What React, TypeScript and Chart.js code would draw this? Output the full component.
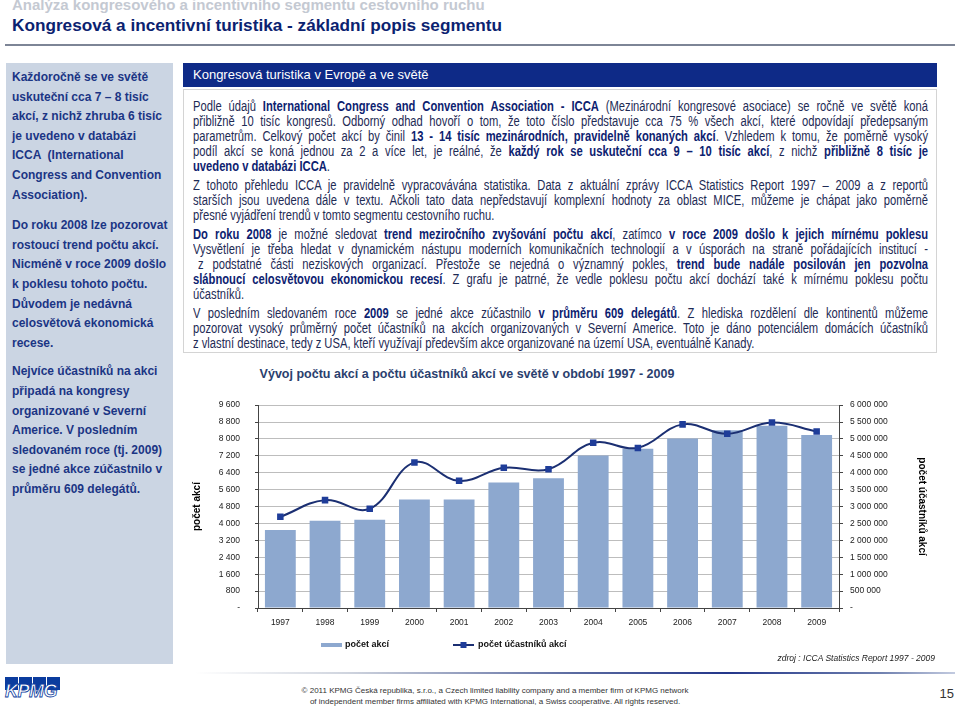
import React, { useEffect, useRef } from "react";
import { Chart, registerables } from "chart.js";

Chart.register(...registerables);

// ---------- DATA ----------
const years = ["1997", "1998", "1999", "2000", "2001", "2002", "2003", "2004", "2005", "2006", "2007", "2008", "2009"];
const eventCounts = [3690, 4130, 4175, 5130, 5135, 5940, 6140, 7220, 7530, 8015, 8410, 8625, 8185];
const participantCounts = [2695000, 3190000, 2935000, 4305000, 3760000, 4145000, 4105000, 4885000, 4735000, 5430000, 5150000, 5485000, 5220000];
const eventsAxisMax = 9600;
const eventsAxisStep = 800;
const participantsAxisMax = 6000000;
const participantsAxisStep = 500000;
const seriesLabels = ["počet akcí", "počet účastníků akcí"];
const axisTitles = ["počet akcí", "počet účastníků akcí"];
const chartTitle = "Vývoj počtu akcí a počtu účastníků akcí ve světě v období 1997 - 2009";
const sourceNote = "zdroj : ICCA Statistics Report 1997 - 2009";

const supTitle = "Analýza kongresového a incentivního segmentu cestovního ruchu";
const mainTitle = "Kongresová a incentivní turistika - základní popis segmentu";
const boxHeader = "Kongresová turistika v Evropě a ve světě";

const sideParagraphs = [
  ["Každoročně se ve světě", "uskuteční cca 7 – 8 tisíc", "akcí, z nichž zhruba 6 tisíc", "je uvedeno v databázi", "ICCA  (International", "Congress and Convention", "Association)."],
  ["Do roku 2008 lze pozorovat", "rostoucí trend počtu akcí.", "Nicméně v roce 2009 došlo", "k poklesu tohoto počtu.", "Důvodem je nedávná", "celosvětová ekonomická", "recese."],
  ["Nejvíce účastníků na akci", "připadá na kongresy", "organizované v Severní", "Americe. V posledním", "sledovaném roce (tj. 2009)", "se jedné akce zúčastnilo v", "průměru 609 delegátů."],
];

const bodyParagraphs = [
  [
    "Podle údajů **International Congress and Convention Association - ICCA** (Mezinárodní kongresové asociace) se ročně ve světě koná",
    "přibližně 10 tisíc kongresů. Odborný odhad hovoří o tom, že toto číslo představuje cca 75 % všech akcí, které odpovídají předepsaným",
    "parametrům. Celkový počet akcí by činil **13 - 14 tisíc mezinárodních, pravidelně konaných akcí**. Vzhledem k tomu, že poměrně vysoký",
    "podíl akcí se koná jednou za 2 a více let, je reálné, že **každý rok se uskuteční cca 9 – 10 tisíc akcí**, z nichž **přibližně 8 tisíc je**",
    "**uvedeno v databázi ICCA**.",
  ],
  [
    "Z tohoto přehledu ICCA je pravidelně vypracovávána statistika. Data z aktuální zprávy ICCA Statistics Report 1997 – 2009 a z reportů",
    "starších jsou uvedena dále v textu. Ačkoli tato data nepředstavují komplexní hodnoty za oblast MICE, můžeme je chápat jako poměrně",
    "přesné vyjádření trendů v tomto segmentu cestovního ruchu.",
  ],
  [
    "**Do roku 2008** je možné sledovat **trend meziročního zvyšování počtu akcí**, zatímco **v roce 2009 došlo k jejich mírnému poklesu**",
    "Vysvětlení je třeba hledat v dynamickém nástupu moderních komunikačních technologií a v úsporách na straně pořádajících institucí -",
    "z podstatné části neziskových organizací. Přestože se nejedná o významný pokles, **trend bude nadále posilován jen pozvolna**",
    "**slábnoucí celosvětovou ekonomickou recesí**. Z grafu je patrné, že vedle poklesu počtu akcí dochází také k mírnému poklesu počtu",
    "účastníků.",
  ],
  [
    "V posledním sledovaném roce **2009** se jedné akce zúčastnilo **v průměru 609 delegátů**. Z hlediska rozdělení dle kontinentů můžeme",
    "pozorovat vysoký průměrný počet účastníků na akcích organizovaných v Severní Americe. Toto je dáno potenciálem domácích účastníků",
    "z vlastní destinace, tedy z USA, kteří využívají především akce organizované na území USA, eventuálně Kanady.",
  ],
];

const footerLines = [
  "© 2011 KPMG Česká republika, s.r.o., a Czech limited liability company and a member firm of KPMG network",
  "of independent member firms affiliated with KPMG International, a Swiss cooperative. All rights reserved.",
];
const pageNumber = "15";

// ---------- STYLE CONSTANTS ----------
const FONT = '"Liberation Sans", Arial, Helvetica, sans-serif';
const BAR_COLOR = "#8DA8CF";
const LINE_COLOR = "#1B2F72";
const MARKER_COLOR = "#1F3D99";
const NARROW_SCALE = 0.8;
const BODY_WIDTH = 735;

function fmt(v: number): string {
  if (v === 0) return "-";
  return String(v).replace(/\B(?=(\d{3})+(?!\d))/g, " ");
}

function renderMarked(s: string, boldColor: string) {
  const parts = s.split("**");
  return parts.map((p, i) =>
    i % 2 === 1 ? (
      <b key={i} style={{ color: boldColor }}>
        {p}
      </b>
    ) : (
      <span key={i}>{p}</span>
    )
  );
}

const legendPlugin = {
  id: "slideLegend",
  afterDraw(chart: any) {
    const ctx = chart.ctx;
    const barDs = chart.data.datasets[1];
    const lineDs = chart.data.datasets[0];
    const y = 260;
    ctx.save();
    ctx.font = `bold 9px ${FONT}`;
    ctx.textBaseline = "middle";
    ctx.textAlign = "left";
    ctx.fillStyle = barDs.backgroundColor;
    ctx.fillRect(138, y - 2, 21, 4);
    ctx.fillStyle = "#111";
    ctx.fillText(barDs.label, 162, y);
    ctx.strokeStyle = lineDs.borderColor;
    ctx.lineWidth = 2;
    ctx.beginPath();
    ctx.moveTo(270, y);
    ctx.lineTo(291, y);
    ctx.stroke();
    ctx.fillStyle = lineDs.pointBackgroundColor;
    ctx.fillRect(277.5, y - 3, 6, 6);
    ctx.fillStyle = "#111";
    ctx.fillText(lineDs.label, 295, y);
    ctx.restore();
  },
};

function ComboChart() {
  const ref = useRef<HTMLCanvasElement | null>(null);
  useEffect(() => {
    if (!ref.current) return;
    const tickFont = { family: FONT, size: 8.5 };
    const chart = new Chart(ref.current, {
      type: "bar",
      data: {
        labels: years,
        datasets: [
          {
            type: "line",
            label: seriesLabels[1],
            data: participantCounts,
            yAxisID: "y1",
            borderColor: LINE_COLOR,
            borderWidth: 2,
            tension: 0.4,
            pointStyle: "rect",
            pointRadius: 4.6,
            pointBackgroundColor: MARKER_COLOR,
            pointBorderColor: MARKER_COLOR,
            pointBorderWidth: 0,
            order: 0,
          } as any,
          {
            type: "bar",
            label: seriesLabels[0],
            data: eventCounts,
            yAxisID: "y",
            backgroundColor: BAR_COLOR,
            barPercentage: 0.69,
            categoryPercentage: 1,
            order: 1,
          } as any,
        ],
      },
      options: {
        animation: false,
        responsive: false,
        maintainAspectRatio: false,
        devicePixelRatio: 1,
        layout: { padding: { top: 13, left: 0, right: 0, bottom: 0 } },
        plugins: { legend: { display: false }, tooltip: { enabled: false }, title: { display: false } },
        scales: {
          x: {
            grid: { display: true, drawOnChartArea: false, drawTicks: true, tickLength: 4, tickColor: "#444", offset: true },
            border: { display: true, color: "#444", width: 1 },
            ticks: { font: tickFont, color: "#222", padding: 6, autoSkip: false, maxRotation: 0 },
            afterFit: (s: any) => {
              s.height = 57;
            },
          },
          y: {
            position: "left",
            min: 0,
            max: eventsAxisMax,
            ticks: { stepSize: eventsAxisStep, callback: (v: any) => fmt(Number(v)), font: tickFont, color: "#222", padding: 15, autoSkip: false },
            grid: { color: "#BDBDBD", lineWidth: 1, tickColor: "#444", tickLength: 3, drawTicks: true },
            border: { color: "#444", width: 1 },
            title: { display: true, text: axisTitles[0], font: { family: FONT, size: 10, weight: "bold" }, color: "#000", padding: { top: 8, bottom: 0 } },
            afterFit: (s: any) => {
              s.width = 75;
            },
          },
          y1: {
            position: "right",
            min: 0,
            max: participantsAxisMax,
            ticks: { stepSize: participantsAxisStep, callback: (v: any) => fmt(Number(v)), font: tickFont, color: "#222", padding: 7, autoSkip: false },
            grid: { drawOnChartArea: false, tickColor: "#444", tickLength: 4, drawTicks: true },
            border: { color: "#444", width: 1 },
            title: { display: true, text: axisTitles[1], font: { family: FONT, size: 10, weight: "bold" }, color: "#000", padding: { top: 9, bottom: 0 } },
            afterFit: (s: any) => {
              s.width = 98;
            },
          },
        },
      } as any,
      plugins: [legendPlugin],
    });
    return () => chart.destroy();
  }, []);
  return <canvas ref={ref} width={754} height={280} style={{ display: "block", width: 754, height: 280 }} />;
}

export default function App() {
  const abs = (o: React.CSSProperties): React.CSSProperties => ({ position: "absolute", ...o });
  return (
    <div style={abs({ left: 0, top: 0, width: 960, height: 709, overflow: "hidden", background: "#fff", fontFamily: FONT })}>
      {/* Titles */}
      <div style={abs({ left: 12, top: -3, fontSize: 15, lineHeight: "16px", fontWeight: "bold", color: "#C4C9D2", whiteSpace: "nowrap" })}>{supTitle}</div>
      <div style={abs({ left: 12, top: 15, fontSize: 17.2, lineHeight: "20px", fontWeight: "bold", color: "#0B2270", whiteSpace: "nowrap" })}>{mainTitle}</div>
      <div style={abs({ left: 5, top: 44, width: 950, height: 2, background: "#7D8596" })} />

      {/* Left panel */}
      <div style={abs({ left: 6, top: 63, width: 167, height: 601, background: "#CBD5E3", boxSizing: "border-box", padding: "5px 0 0 6px" })}>
        {sideParagraphs.map((p, i) => (
          <div key={i} style={{ marginBottom: i === 0 ? 11 : 9, fontSize: 12, lineHeight: "19.6px", fontWeight: "bold", color: "#1B3585", whiteSpace: "pre" }}>
            {p.map((l, j) => (
              <div key={j}>{l}</div>
            ))}
          </div>
        ))}
      </div>

      {/* Header bar */}
      <div style={abs({ left: 183, top: 63, width: 754, height: 24, background: "#0E2A87", color: "#fff", fontSize: 13, lineHeight: "24px", paddingLeft: 10, boxSizing: "border-box" })}>{boxHeader}</div>

      {/* Text box */}
      <div style={abs({ left: 183, top: 89, width: 754, height: 264, border: "1px solid #D4D4D4", boxSizing: "border-box", padding: "9px 8px 0 9px", fontSize: 14, lineHeight: "15px", color: "#1E2B55", overflow: "hidden" })}>
        {bodyParagraphs.map((p, i) => (
          <div key={i} style={{ marginBottom: 4 }}>
            {p.map((l, j) => {
              const last = j === p.length - 1;
              const indent = l.startsWith("z podstatné") ? 5 : 0;
              return (
                <div key={j} style={{ height: 15 }}>
                  <div
                    style={{
                      width: (BODY_WIDTH - indent) / NARROW_SCALE,
                      marginLeft: indent,
                      transform: `scaleX(${NARROW_SCALE})`,
                      transformOrigin: "0 0",
                      whiteSpace: "nowrap",
                      textAlign: last ? "left" : "justify",
                      textAlignLast: last ? "left" : "justify",
                    } as any}
                  >
                    {renderMarked(l, "#0D2270")}
                  </div>
                </div>
              );
            })}
          </div>
        ))}
      </div>

      {/* Chart title */}
      <div style={abs({ left: 0, top: 366, width: 934, textAlign: "center", fontSize: 12.5, lineHeight: "16px", fontWeight: "bold", color: "#2A406E", whiteSpace: "nowrap" })}>{chartTitle}</div>

      {/* Chart */}
      <div style={abs({ left: 183, top: 385, width: 754, height: 280 })}>
        <ComboChart />
      </div>

      {/* Source note */}
      <div style={abs({ left: 600, top: 652, width: 335, textAlign: "right", fontSize: 8.5, lineHeight: "12px", fontStyle: "italic", color: "#222", whiteSpace: "nowrap" })}>{sourceNote}</div>

      {/* Footer */}
      <div style={abs({ left: 195, top: 672, width: 760, height: 2, background: "linear-gradient(to right, #ffffff, #cfd4de 20%, #5a6aa0 50%, #23368a 70%, #6e7fae 90%, #c3cbe0)" })} />
      {[0, 1, 2, 3].map((k) => (
        <div key={k} style={abs({ left: 5 + k * 14, top: 677, width: 13, height: 13, background: "#0B3C9E" })} />
      ))}
      <div style={abs({ left: 5, top: 681, fontSize: 18, lineHeight: "20px", fontWeight: "bold", fontStyle: "italic", color: "#fff", WebkitTextStroke: "0.8px #0B3C9E", letterSpacing: "-0.5px" } as any)}>KPMG</div>
      <div style={abs({ left: 0, top: 685, width: 990, textAlign: "center", fontSize: 8, lineHeight: "11px", color: "#333", whiteSpace: "nowrap" })}>
        {footerLines.map((l, i) => (
          <div key={i}>{l}</div>
        ))}
      </div>
      <div style={abs({ left: 930, top: 686, width: 24, textAlign: "right", fontSize: 13, lineHeight: "16px", color: "#333" })}>{pageNumber}</div>
    </div>
  );
}
